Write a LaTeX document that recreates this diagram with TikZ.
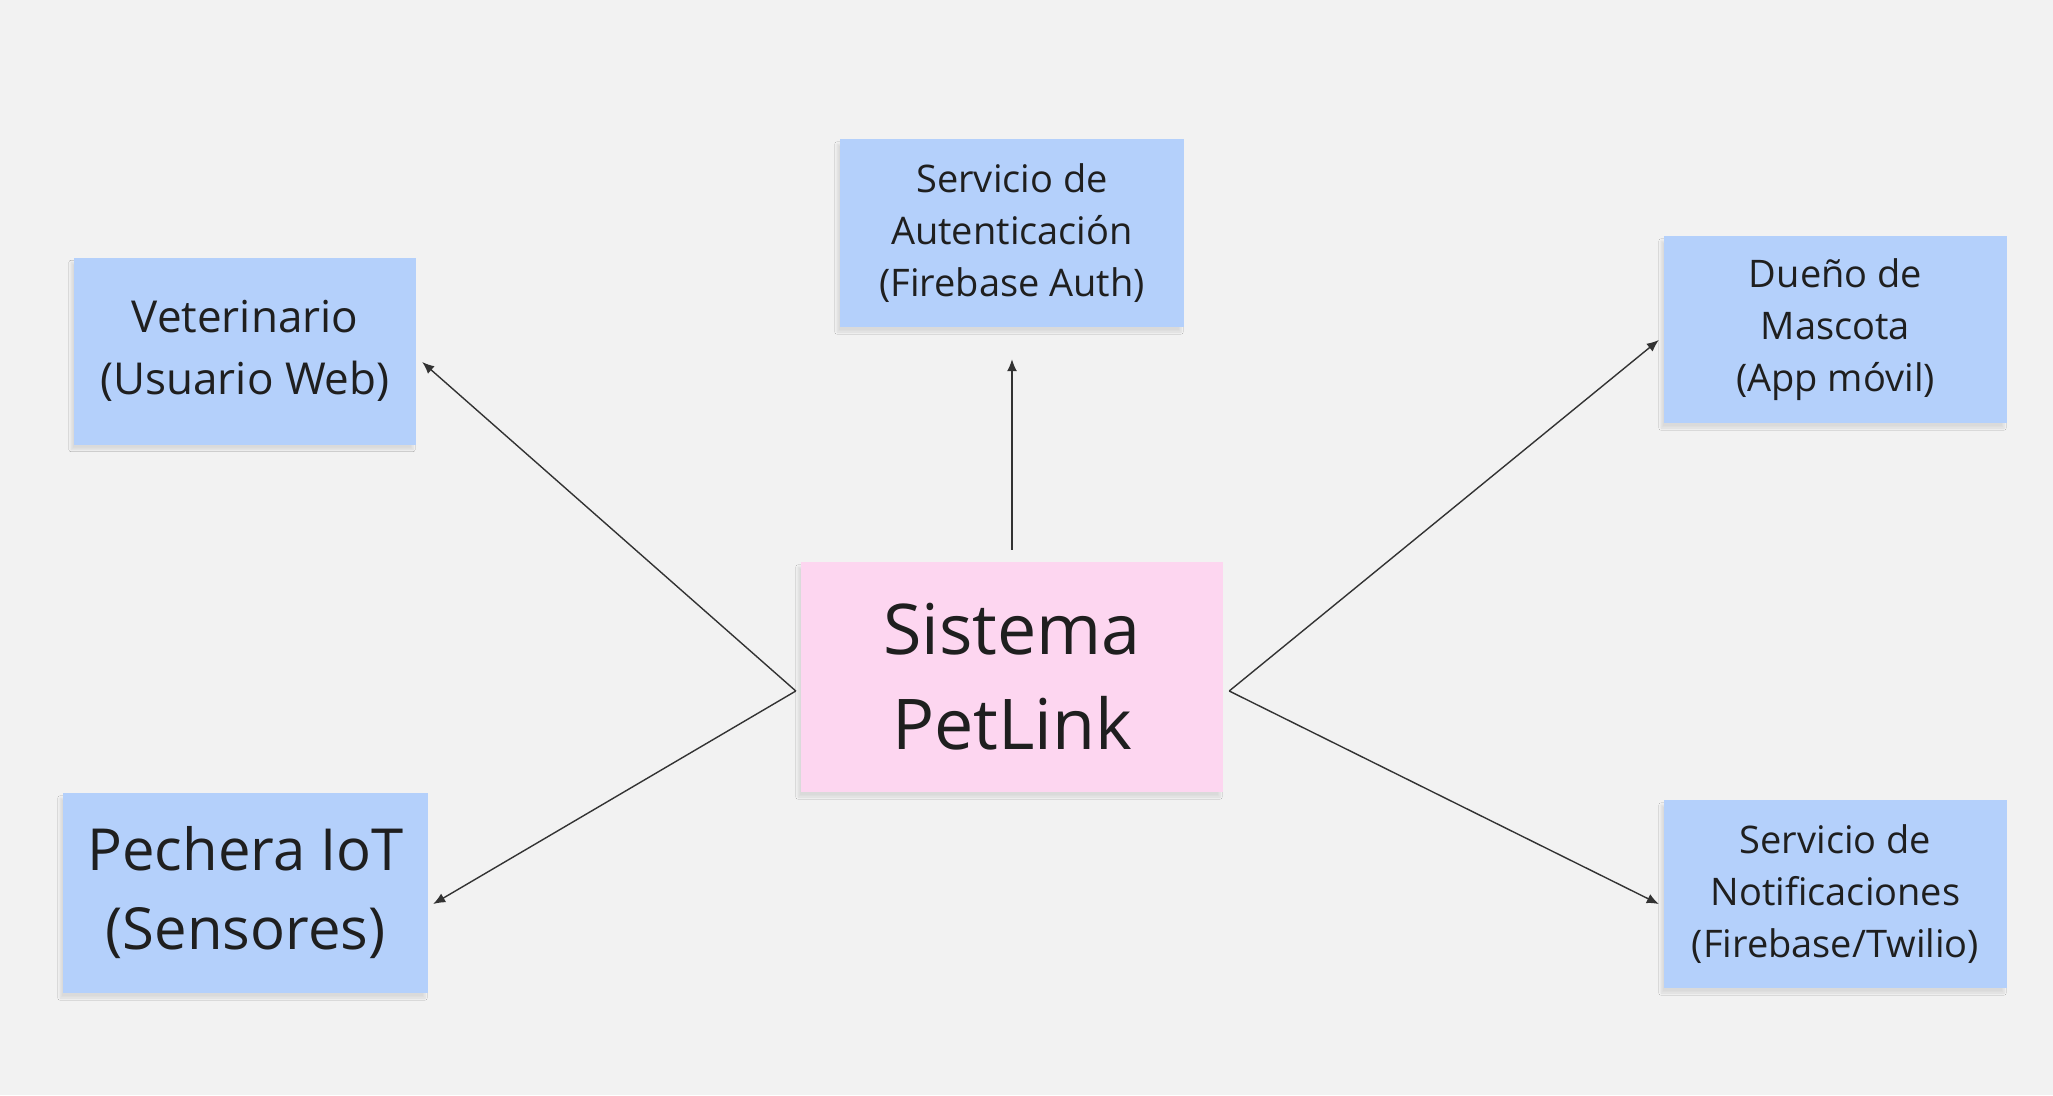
\documentclass[tikz,border=0pt]{standalone}
\usepackage{fontspec}
\setmainfont{Open Sans}
\usepackage{tikz}
\usetikzlibrary{arrows.meta}
\usetikzlibrary{shapes, shadows.blur}
\definecolor{bgcol}{RGB}{242,242,242}
\definecolor{bluenote}{RGB}{180,208,251}
\definecolor{pinknote}{RGB}{253,214,240}
\definecolor{linkcol}{RGB}{51,51,51}
\tikzset{
  note/.style={rectangle, fill=bluenote, draw=none, align=center, text=black!88,
    inner sep=0pt, font=\fontsize{38}{52}\selectfont,
    blur shadow={shadow xshift=-3pt, shadow yshift=-5pt, shadow blur steps=8, shadow opacity=10}},
  link/.style={linkcol, line width=1.4pt, ->},
}
\begin{document}
\begin{tikzpicture}[>={Latex[length=12pt,width=10pt]},line join=bevel,x=1pt,y=-1pt]
%%
\fill [bgcol] (0,0) rectangle (2053,1095);
\useasboundingbox (0,0) rectangle (2053,1095);
\node (node_sistema) at (1012,677) [note,fill=pinknote,minimum width=422pt,minimum height=230pt,font=\fontsize{70}{95}\selectfont] {Sistema\\PetLink};
  \node (node_vet) at (245,351) [note,minimum width=342pt,minimum height=187pt,font=\fontsize{44}{62}\selectfont] {Veterinario\\(Usuario Web)};
  \node (node_auth) at (1012,233) [note,minimum width=344pt,minimum height=188pt] {Servicio de\\Autenticación\\(Firebase Auth)};
  \node (node_owner) at (1835.5,329.5) [note,minimum width=343pt,minimum height=187pt] {Dueño de\\Mascota\\(App móvil)};
  \node (node_vest) at (245.5,893) [note,minimum width=365pt,minimum height=200pt,font=\fontsize{58}{79}\selectfont] {Pechera IoT\\(Sensores)};
  \node (node_notif) at (1835.5,894) [note,minimum width=343pt,minimum height=188pt] {Servicio de\\Notificaciones\\(Firebase/Twilio)};
%
\coordinate (node_sistema_w) at ([xshift=-5pt,yshift=-14pt]node_sistema.west);
  \coordinate (node_sistema_e) at ([xshift=6pt,yshift=-14pt]node_sistema.east);
  \coordinate (node_sistema_n) at ([yshift=12pt]node_sistema.north);
  \draw [link] (node_sistema_w) -- ([xshift=6pt,yshift=-11pt]node_vet.east);
  \draw [link] (node_sistema_w) -- ([xshift=5pt,yshift=-11pt]node_vest.east);
  \draw [link] (node_sistema_n) -- ([yshift=-32pt]node_auth.south);
  \draw [link] (node_sistema_e) -- ([xshift=-5pt,yshift=-10.5pt]node_owner.west);
  \draw [link] (node_sistema_e) -- ([xshift=-5pt,yshift=-10pt]node_notif.west);
%
\end{tikzpicture}
\end{document}
